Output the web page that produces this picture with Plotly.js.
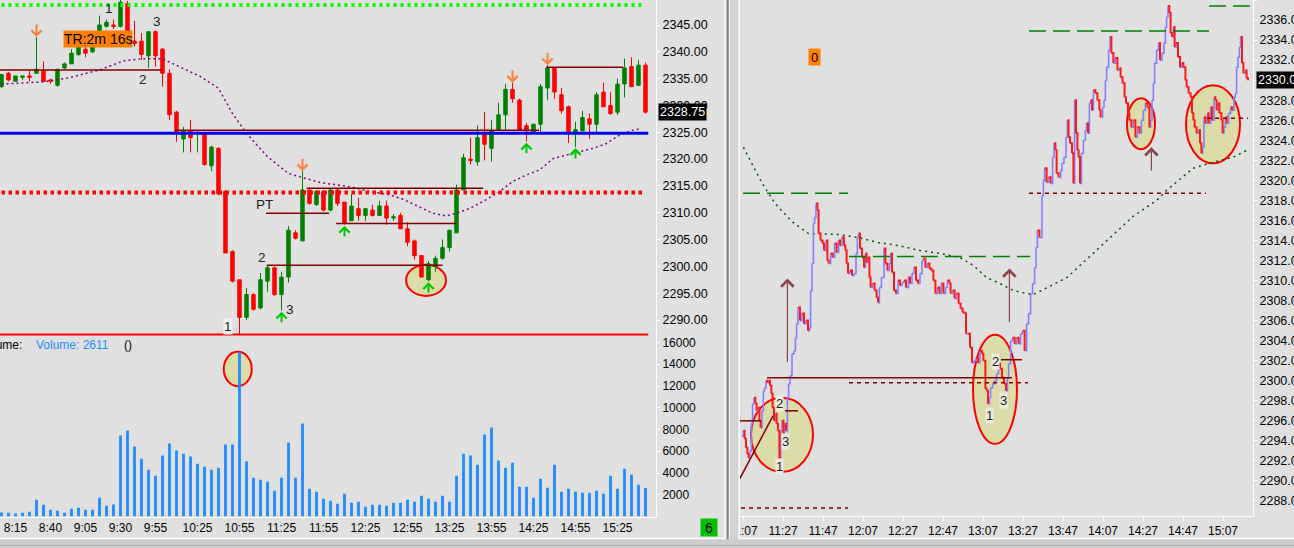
<!DOCTYPE html>
<html><head><meta charset="utf-8">
<script src="https://cdn.plot.ly/plotly-3.0.1.min.js"></script>
<style>html,body{margin:0;padding:0;background:#E0E0E0;overflow:hidden}#chart{width:1294px;height:548px}</style>
</head><body><div id="chart"></div><script>
// ---------- LEFT PANEL DATA (5-minute bars) ----------
const times = ["8:05","8:10","8:15","8:20","8:25","8:30","8:35","8:40","8:45","8:50","8:55",
"9:00","9:05","9:10","9:15","9:20","9:25","9:30","9:35","9:40","9:45","9:50","9:55",
"10:00","10:05","10:10","10:15","10:20","10:25","10:30","10:35","10:40","10:45","10:50","10:55",
"11:00","11:05","11:10","11:15","11:20","11:25","11:30","11:35","11:40","11:45","11:50","11:55",
"12:00","12:05","12:10","12:15","12:20","12:25","12:30","12:35","12:40","12:45","12:50","12:55",
"13:00","13:05","13:10","13:15","13:20","13:25","13:30","13:35","13:40","13:45","13:50","13:55",
"14:00","14:05","14:10","14:15","14:20","14:25","14:30","14:35","14:40","14:45","14:50","14:55",
"15:00","15:05","15:10","15:15","15:20","15:25","15:30","15:35","15:40","15:45"];
const open = [2333.5,2336.0,2334.5,2335.25,2335.5,2336.0,2336.5,2334.75,2333.75,2337.0,
2337.75,2339.5,2340.5,2340.0,2341.5,2344.75,2345.0,2344.75,2349.0,2342.0,
2342.0,2339.25,2343.75,2340.5,2336.0,2328.75,2323.75,2325.25,2324.75,2324.75,
2318.75,2322.0,2314.0,2302.75,2297.5,2290.5,2294.75,2292.25,2297.25,2299.75,
2294.75,2298.0,2306.25,2304.75,2314.25,2311.5,2314.0,2310.5,2314.25,2312.0,
2308.5,2310.75,2309.5,2310.5,2309.5,2311.25,2309.0,2309.5,2307.0,2304.75,
2302.0,2297.5,2300.0,2301.5,2303.5,2306.25,2314.25,2320.0,2319.5,2324.5,
2322.0,2325.5,2328.25,2333.0,2331.0,2326.25,2325.0,2326.5,2333.25,2337.0,
2332.0,2329.75,2325.0,2325.25,2327.5,2326.5,2332.5,2330.0,2328.75,2334.0,
2337.25,2333.75,2337.5];
const high = [2335.75,2336.25,2335.5,2335.5,2336.5,2342.75,2338.25,2335.0,2336.75,2338.0,
2340.5,2342.0,2341.0,2341.5,2346.75,2346.0,2346.0,2350.0,2349.5,2345.75,
2343.5,2343.75,2344.0,2340.75,2336.75,2329.0,2326.0,2327.25,2325.0,2325.0,
2322.5,2322.25,2314.25,2303.0,2297.5,2296.0,2295.0,2298.75,2300.25,2300.0,
2299.0,2307.5,2306.75,2317.75,2314.75,2314.25,2314.25,2314.5,2314.5,2312.0,
2313.5,2312.75,2310.75,2311.5,2312.25,2312.25,2309.75,2310.0,2308.25,2305.0,
2302.0,2301.0,2302.0,2305.0,2306.75,2315.25,2321.0,2324.0,2326.25,2328.75,
2327.25,2330.5,2334.0,2334.25,2331.25,2326.75,2326.5,2334.0,2337.5,2337.0,
2333.25,2330.0,2327.0,2329.0,2328.5,2332.5,2334.25,2332.5,2335.0,2338.75,
2339.0,2338.5,2338.0];
const low = [2333.25,2334.5,2334.5,2334.75,2334.5,2336.0,2334.5,2334.0,2333.5,2336.75,
2337.75,2339.25,2339.0,2339.75,2341.25,2344.5,2344.25,2344.5,2341.5,2341.0,
2338.5,2337.0,2337.25,2333.5,2327.25,2323.25,2321.25,2321.25,2321.25,2318.75,
2317.75,2313.25,2302.5,2297.0,2287.25,2290.0,2291.75,2292.0,2295.25,2294.5,
2291.75,2297.0,2305.0,2304.75,2311.5,2311.25,2310.25,2310.25,2311.25,2307.75,
2308.5,2308.5,2308.5,2309.25,2309.5,2307.75,2308.5,2307.0,2303.75,2301.25,
2298.0,2297.25,2299.0,2301.25,2302.75,2306.25,2314.25,2319.0,2318.75,2319.75,
2319.5,2325.5,2325.5,2330.5,2325.5,2323.25,2325.0,2325.0,2331.0,2331.25,
2328.5,2323.0,2322.25,2325.25,2323.75,2325.0,2329.75,2328.25,2328.25,2331.5,
2333.5,2333.75,2328.5];
const close = [2335.75,2334.75,2335.5,2335.5,2335.25,2336.75,2334.5,2334.5,2336.75,2337.75,
2339.75,2341.0,2339.75,2341.0,2345.0,2345.5,2344.75,2349.25,2341.75,2341.5,
2339.5,2343.75,2339.25,2336.0,2328.25,2325.0,2325.25,2324.0,2325.0,2319.0,
2322.25,2313.5,2302.5,2297.25,2290.5,2294.75,2292.0,2297.5,2299.75,2294.75,
2298.0,2306.75,2305.25,2314.25,2311.75,2314.0,2310.5,2314.25,2311.75,2308.0,
2311.25,2309.5,2310.75,2309.5,2311.25,2309.0,2309.25,2307.0,2304.5,2302.0,
2298.0,2300.5,2301.5,2303.5,2306.75,2314.25,2320.25,2319.75,2324.0,2322.75,
2325.25,2328.25,2333.0,2331.25,2325.5,2325.25,2326.5,2333.5,2337.0,2332.5,
2329.0,2325.0,2325.5,2327.75,2326.5,2332.0,2329.75,2328.5,2334.0,2337.0,
2333.5,2337.5,2328.75];
const volume = [370,340,280,340,430,1540,1080,620,520,340,
710,800,620,620,1720,980,1110,7450,7910,6430,
5320,4310,3750,5600,6710,6060,5780,5510,4860,4580,
4310,4490,6620,6620,15100,5050,3570,3380,3200,2370,
3570,6800,3570,8550,2550,2280,1630,1450,1170,2090,
1260,1350,890,1080,1080,980,1260,1260,1540,1350,
1910,1630,1350,1910,1350,3750,5780,5600,4770,7540,
8180,5140,4490,4950,2740,2740,1720,3480,2650,4770,
2280,2550,2280,2180,2180,2370,2090,3750,2550,4400,
3850,2920,2611];
// moving average read at sample bars: [bar index, price]
const leftMA = [[0,2334.0],[6,2334.4],[9.4,2335.1],[14,2336.6],[17.5,2338.35],[20,2338.7],[23,2338.7],[26,2336.9],[28.4,2335.4],[31,2333.2],[33,2328.5],[35,2324.8],[38,2320.45],[41,2317.3],[42.7,2316.7],[45.6,2315.6],[48,2315.2],[50.3,2314.7],[52.7,2313.9],[55,2313.5],[57.4,2312.5],[59.7,2311.0],[61.6,2309.9],[63.5,2309.4],[65,2309.9],[66.9,2310.8],[69.2,2312.4],[71.1,2313.9],[73,2315.8],[74.9,2317.0],[76.9,2318.0],[78.8,2320.1],[80.7,2320.8],[82.6,2321.4],[84.5,2322.0],[86.4,2322.9],[88.3,2324.5],[90.2,2325.4],[91.4,2325.7]];
const leftTickLabels = ["8:15","8:40","9:05","9:30","9:55","10:25","10:55","11:25","11:55","12:25","12:55","13:25","13:55","14:25","14:55","15:25"];
const volTicks = [2000,4000,6000,8000,10000,12000,14000,16000];

// ---------- RIGHT PANEL DATA (tick chart) : [minutes after 11:07, price] ----------
const rightBase = "11:07";
const rightTicks = [[-0.5,2294.5],[0.2,2295.0],[0.8,2294.2],[1.5,2293.3],[2.2,2292.7],[2.8,2292.3],[3.5,2293.0],[4.2,2295.7],[4.8,2297.7],[5.5,2298.3],[6.2,2297.7],[6.8,2297.0],[7.5,2297.3],[8.2,2296.0],[8.8,2295.3],[9.5,2297.0],[10.2,2299.0],[10.8,2299.3],[11.5,2300.0],[12.2,2299.8],[12.8,2300.0],[13.5,2299.5],[14.2,2298.7],[14.8,2297.3],[15.5,2296.0],[16.2,2296.7],[16.8,2295.7],[17.5,2295.0],[18.2,2291.2],[18.8,2295.0],[19.5,2296.0],[20.2,2294.7],[20.8,2295.7],[21.5,2295.0],[22.2,2298.3],[22.8,2299.7],[23.5,2300.5],[24.5,2302.7],[25.5,2303.0],[26.2,2304.3],[26.8,2305.7],[27.5,2307.3],[28.5,2306.0],[29.5,2306.7],[30.5,2305.7],[31.5,2306.0],[32.5,2305.0],[33.2,2305.3],[33.8,2309.0],[34.5,2311.7],[35.2,2315.7],[35.8,2316.3],[36.5,2317.7],[37.2,2317.0],[37.8,2314.7],[38.8,2314.0],[39.8,2313.7],[40.5,2313.0],[41.5,2314.0],[42.2,2312.0],[42.8,2311.7],[43.8,2312.7],[44.8,2312.3],[45.8,2313.7],[46.8,2312.8],[47.8,2314.0],[48.5,2313.5],[49.5,2314.3],[50.5,2313.5],[51.2,2313.0],[51.8,2311.7],[52.5,2310.7],[53.5,2311.0],[54.5,2310.5],[55.5,2310.7],[56.5,2312.7],[57.2,2314.3],[57.8,2314.7],[58.5,2313.2],[59.5,2312.3],[60.5,2311.3],[61.2,2312.7],[61.8,2311.8],[62.5,2312.3],[63.2,2310.3],[63.8,2309.3],[64.8,2309.7],[65.8,2309.0],[66.8,2308.3],[67.5,2307.8],[68.2,2309.3],[69.2,2310.3],[69.8,2310.3],[70.5,2313.2],[71.2,2311.7],[72.2,2311.0],[73.2,2311.7],[73.8,2312.7],[74.5,2310.8],[75.5,2309.0],[76.5,2308.7],[77.5,2310.0],[78.5,2309.5],[79.5,2309.8],[80.5,2310.0],[81.5,2309.3],
[82.7,2310.3],[83.5,2309.7],[84.5,2310.7],[85.5,2311.3],[86.5,2310.0],[87.5,2309.7],[88.5,2310.7],[89.5,2312.0],[90.2,2312.2],[91.2,2311.3],[92.2,2311.7],[93.2,2311.2],[94.2,2311.0],[95.2,2310.0],[96.2,2308.7],[97.2,2309.3],[98.2,2308.7],[99.2,2309.7],[100.2,2308.7],[101.2,2309.3],[102.2,2310.0],[103.2,2309.7],[103.8,2308.7],[104.8,2309.0],[105.8,2308.2],[106.8,2308.7],[107.8,2307.7],[108.8,2307.2],[109.8,2306.8],[110.8,2306.7],[111.5,2304.7],[112.5,2304.7],[113.5,2303.3],[114.5,2301.8],[115.5,2302.0],[116.5,2302.3],[117.5,2301.8],[118.5,2303.0],[119.5,2302.7],[120.2,2302.0],[121.2,2299.2],[121.8,2299.0],[122.5,2297.7],[123.2,2298.3],[123.8,2299.3],[124.8,2299.7],[125.8,2300.0],[126.8,2300.7],[127.8,2301.7],[128.5,2301.2],[129.5,2300.3],[130.5,2299.7],[131.5,2299.0],[132.2,2300.3],[132.8,2301.7],[133.8,2304.0],[134.8,2304.3],[135.8,2303.7],[136.8,2304.3],[137.8,2303.7],[138.8,2304.7],[139.8,2305.0],[140.8,2303.0],[141.8,2305.7],[142.8,2306.7],[143.8,2308.7],[144.8,2309.7],[145.8,2311.3],[146.5,2313.3],[147.2,2315.0],[148.2,2314.3],
[149.5,2318.5],[150.2,2320.0],[150.8,2321.2],[151.8,2319.8],[152.8,2320.3],[153.8,2319.7],[154.8,2322.3],[155.5,2323.7],[156.2,2323.0],[156.8,2320.7],[157.8,2320.3],[158.8,2321.0],[159.5,2321.7],[160.5,2322.3],[161.5,2324.3],[162.2,2326.0],[162.8,2324.3],[163.5,2323.7],[164.5,2322.7],[165.2,2319.7],[165.8,2328.0],[166.5,2324.7],[167.2,2323.0],[167.8,2322.3],[168.5,2319.7],[169.2,2322.7],[170.2,2324.0],[171.2,2325.0],[171.8,2325.7],[172.5,2324.7],[173.2,2327.7],[173.8,2328.0],[174.5,2327.0],[175.2,2329.0],[176.2,2328.7],[177.2,2328.0],[178.2,2327.0],[178.8,2326.3],[179.8,2327.3],[180.5,2328.0],[181.2,2330.0],[181.8,2331.3],[182.8,2333.0],[183.5,2334.3],[184.2,2332.7],[185.2,2331.7],[186.2,2332.2],[187.2,2331.0],[188.2,2331.2],[188.8,2330.3],[189.8,2329.7],[190.8,2328.3],[191.5,2327.7],[192.5,2326.7],[193.2,2326.0],[194.2,2325.3],[195.2,2326.0],[196.2,2324.3],[197.2,2325.3],[198.2,2324.7],[199.2,2326.0],[200.2,2327.0],[201.2,2327.7],[202.2,2327.3],[203.2,2325.3],[203.8,2326.0],[204.5,2328.0],[205.2,2329.7],[205.8,2331.7],[206.8,2333.0],[207.8,2333.7],[208.5,2332.0],[209.5,2332.7],[210.5,2333.7],[211.2,2335.3],[211.8,2336.3],[212.5,2337.4],[213.2,2336.7],[213.8,2334.7],[214.5,2334.3],[215.2,2335.3],[215.8,2333.3],[216.5,2333.7],[217.5,2332.3],[218.5,2331.3],[219.5,2331.7],[220.2,2331.3],[221.2,2330.0],[221.8,2329.3],[222.8,2328.7],[223.8,2328.3],[224.5,2326.7],[225.2,2326.0],[225.8,2325.3],[226.8,2324.7],[227.8,2325.0],[228.5,2323.7],[229.2,2322.7],[229.8,2323.3],[230.5,2326.3],[231.2,2325.7],[232.2,2326.7],[232.8,2325.7],[233.8,2327.3],[234.5,2326.0],[235.5,2328.3],[236.2,2328.0],[236.8,2327.0],[237.5,2327.7],[238.2,2326.7],[239.2,2326.0],[239.8,2324.7],[240.5,2325.3],[241.2,2326.3],[241.8,2325.7],[242.8,2326.7],[243.8,2327.3],[244.5,2327.0],[245.5,2328.3],[246.2,2328.7],[246.8,2331.3],[247.5,2332.3],[248.2,2333.3],[248.8,2334.3],[249.5,2331.7],[250.2,2330.7],[251.2,2331.0],[251.8,2330.2],[252.5,2330.0]];
const rightMA = [[0.2,2323.3],[9.3,2319.8],[16,2317.7],[24.3,2315.9],[32.7,2314.7],[47.5,2314.6],[57.5,2314.3],[67.5,2313.8],[77.5,2313.5],[88.5,2313.0],[98.5,2312.7],[108.5,2312.3],[115.2,2311.5],[121.8,2310.3],[128.5,2309.7],[135.2,2309.0],[141.8,2308.7],[145.2,2308.6],[162,2310.3],[178.5,2313.4],[195,2316.4],[206.8,2318.0],[211.8,2319.0],[225,2321.2],[235,2321.8],[245,2322.3],[252,2323.0]];
const rightTickLabels = ["11:07","11:27","11:47","12:07","12:27","12:47","13:07","13:27","13:47","14:07","14:27","14:47","15:07"];

// ---------- helpers ----------
const W = 1294, H = 548;
const px = v => v / W;
const py = v => 1 - v / H;
const toMin = s => { const [h, m] = s.split(":").map(Number); return h * 60 + m; };
const idx = times.map((_, i) => i);
const FONT = "Liberation Sans, Arial, sans-serif";

// split tick path into up/down segments
const upX = [], upY = [], dnX = [], dnY = [];
for (let k = 1; k < rightTicks.length; k++) {
  const a = rightTicks[k - 1], b = rightTicks[k];
  if (b[1] >= a[1]) { upX.push(a[0], b[0], null); upY.push(a[1], b[1], null); }
  else { dnX.push(a[0], b[0], null); dnY.push(a[1], b[1], null); }
}

const traces = [
  { type: "candlestick", x: idx, open, high, low, close, xaxis: "x", yaxis: "y",
    increasing: { line: { color: "#008000", width: 1 }, fillcolor: "#008000" },
    decreasing: { line: { color: "#FF0000", width: 1 }, fillcolor: "#FF0000" },
    whiskerwidth: 0, hoverinfo: "skip" },
  { type: "scatter", mode: "lines", x: leftMA.map(d => d[0]), y: leftMA.map(d => d[1]), xaxis: "x", yaxis: "y",
    line: { color: "#800080", width: 1.5, dash: "2px,3px" }, hoverinfo: "skip" },
  { type: "bar", x: idx, y: volume, xaxis: "x", yaxis: "y2", width: 0.4,
    marker: { color: "#1E8CFF", line: { width: 0 } }, hoverinfo: "skip" },
  { type: "scatter", mode: "lines", x: rightMA.map(d => d[0]), y: rightMA.map(d => d[1]), xaxis: "x2", yaxis: "y3",
    line: { color: "#005000", width: 1.5, dash: "2px,4px" }, hoverinfo: "skip" },
  { type: "scatter", mode: "lines", x: upX, y: upY, xaxis: "x2", yaxis: "y3", connectgaps: false,
    line: { color: "#8080FF", width: 1.6, shape: "hv" }, hoverinfo: "skip" },
  { type: "scatter", mode: "lines", x: dnX, y: dnY, xaxis: "x2", yaxis: "y3", connectgaps: false,
    line: { color: "#FF1A1A", width: 2, shape: "hv" }, hoverinfo: "skip" }
];

// ---------- shapes ----------
const shapes = [];
const hline = (xr, yr, y, x0, x1, color, width, dash) => shapes.push({ type: "line", xref: xr, yref: yr, x0, x1, y0: y, y1: y, layer: "above", line: { color, width, dash: dash || "solid" } });
const ellipse = (xr, yr, x0, x1, y0, y1) => shapes.push({ type: "circle", xref: xr, yref: yr, x0, x1, y0, y1, layer: "below", fillcolor: "#DCDCA8", line: { color: "#FF0000", width: 2 } });

// left panel ellipses
ellipse("x", "y", 57.8, 63.5, 2294.5, 2300.3);
ellipse("x", "y2", 31.75, 35.75, 11990, 15150);
// left panel levels
hline("x", "y", 2348.75, -1, 92, "#00FF00", 4, "3px,4px");
hline("x", "y", 2324.8, -1, 92.4, "#0000FF", 3);
hline("x", "y", 2313.75, -1, 92, "#FF0000", 4, "3.5px,3.5px");
hline("x", "y", 2287.3, -1, 92.4, "#FF0000", 2);
const M = "#800000";
hline("x", "y", 2336.6, -1, 22.9, M, 1.5);
hline("x", "y", 2325.4, 24.8, 76.8, M, 1.5);
hline("x", "y", 2314.55, 43.6, 68.8, M, 1.5);
hline("x", "y", 2309.9, 37.8, 46.8, M, 1.5);
hline("x", "y", 2300.2, 37.9, 63.0, M, 1.5);
hline("x", "y", 2308.0, 47.8, 65.0, M, 1.5);
hline("x", "y", 2337.1, 77.8, 88.8, M, 1.5);

// right panel ellipses
ellipse("x2", "y3", 4, 35, 2290.9, 2298.3);
ellipse("x2", "y3", 115, 137, 2293.7, 2304.6);
ellipse("x2", "y3", 192, 206, 2323.1, 2328.2);
ellipse("x2", "y3", 221.5, 248.5, 2321.7, 2329.5);
// right panel levels
hline("x2", "y3", 2318.7, 0, 52.5, "#008000", 1.5, "17px,7px");
hline("x2", "y3", 2312.4, 53, 143.5, "#008000", 1.5, "17px,7px");
hline("x2", "y3", 2334.9, 143, 233, "#008000", 1.5, "17px,7px");
hline("x2", "y3", 2337.4, 233, 253.5, "#008000", 1.5, "17px,7px");
hline("x2", "y3", 2299.8, 53, 142.5, M, 1.5, "4px,4px");
hline("x2", "y3", 2318.7, 143, 231.5, M, 1.5, "4px,4px");
hline("x2", "y3", 2326.2, 232, 252.5, M, 1.5, "4px,4px");
hline("x2", "y3", 2287.3, -1, 52.5, M, 1.5, "4px,4px");
hline("x2", "y3", 2300.3, 12, 134.5, M, 1.5);
hline("x2", "y3", 2302.1, 129, 139.5, M, 1.5);
hline("x2", "y3", 2296.0, -1.5, 9, M, 1.5);
hline("x2", "y3", 2297.0, 21, 27.5, M, 1.5);
shapes.push({ type: "line", xref: "x2", yref: "y3", x0: -1.65, y0: 2290.2, x1: 15, y1: 2296.5, layer: "above", line: { color: M, width: 1.5 } });

// window frame
const prect = (x0, x1, y0, y1, fill) => shapes.push({ type: "rect", xref: "paper", yref: "paper", x0: px(x0), x1: px(x1), y0: py(y1), y1: py(y0), layer: "above", fillcolor: fill, line: { width: 0 } });
const pline = (x0, y0, x1, y1, color, width) => shapes.push({ type: "line", xref: "paper", yref: "paper", x0: px(x0), x1: px(x1), y0: py(y0), y1: py(y1), layer: "above", line: { color, width } });
prect(724.5, 739.5, 0, 548, "#D2D2D2");
prect(725.5, 729, 0, 548, "#BEBEBE");
pline(725, 0, 725, 539, "#FFFFFF", 1.5);
pline(727.8, 0, 727.8, 548, "#7C7C7C", 1.5);
pline(729.5, 0, 729.5, 548, "#F4F4F4", 1);
pline(739.2, 0, 739.2, 539, "#FFFFFF", 1.5);
prect(0, 1294, 539, 548, "#CDCDCD");
pline(0, 538.5, 725, 538.5, "#FFFFFF", 1.5);
pline(739, 538.5, 1294, 538.5, "#FFFFFF", 1.5);
pline(0, 545.5, 1294, 545.5, "#B0B0B0", 1);

// ---------- annotations ----------
const ann = [];
const txt = (xr, yr, x, y, text, opts) => ann.push(Object.assign({ xref: xr, yref: yr, x, y, xanchor: "center", yanchor: "middle", text, showarrow: false, font: { family: FONT, size: 13.5, color: "#202020" } }, opts || {}));
// left pivots
txt("x", "y", 15.4, 2348.0, "1");
txt("x", "y", 22.2, 2345.6, "3");
txt("x", "y", 20.2, 2334.9, "2");
txt("x", "y", 32.4, 2288.7, "1", { bgcolor: "#F2F2F2", borderpad: 0 });
txt("x", "y", 37.2, 2301.6, "2");
txt("x", "y", 41.2, 2292.05, "3");
txt("x", "y", 37.6, 2311.6, "PT");
// right pivots
const rb = { bgcolor: "#ECECDF", borderpad: 0, font: { family: FONT, size: 13, color: "#202020" } };
txt("x2", "y3", 18.4, 2297.7, "2", rb);
txt("x2", "y3", 21.2, 2293.9, "3", rb);
txt("x2", "y3", 18.4, 2291.4, "1", rb);
txt("x2", "y3", 126.2, 2301.9, "2", rb);
txt("x2", "y3", 130.2, 2298.0, "3", rb);
txt("x2", "y3", 123.2, 2296.5, "1", rb);

// arrows
const arrow = (xr, yr, x, y, ay, color, w, head, size) => ann.push({ xref: xr, yref: yr, x, y, ax: 0, ay, text: "", showarrow: true, arrowhead: head, arrowsize: size, arrowwidth: w, arrowcolor: color, standoff: 0 });
[5, 43, 73, 78].forEach(i => arrow("x", "y", i, high[i], -14, "#FF8040", 2, 4, 1));
[40, 49, 61, 75, 82].forEach(i => arrow("x", "y", i, low[i] - 0.2, 12, "#00C800", 2, 4, 1));
arrow("x2", "y3", 22.2, 2310.2, 85, "#8B4545", 1.2, 4, 2);
arrow("x2", "y3", 133.2, 2311.2, 55, "#8B4545", 1.2, 4, 2);
arrow("x2", "y3", 204.2, 2323.3, 25, "#8B4545", 1.2, 4, 2);

// labels / boxes
const box = (x, y, text, bg, size, extra) => ann.push(Object.assign({ xref: "paper", yref: "paper", x: px(x), y: py(y), xanchor: "center", yanchor: "middle", text, showarrow: false, bgcolor: bg, borderpad: 0, font: { family: FONT, size, color: "#000" } }, extra || {}));
box(98, 39.5, "TR:2m 16s", "#FF8000", 14);
box(814.5, 57, "0", "#FF8000", 13, { width: 11, height: 16 });
box(709, 527.5, "6", "#00C000", 14, { width: 16, height: 17 });
ann.push({ xref: "paper", yref: "y", x: px(657.5), xanchor: "left", yanchor: "middle", y: close[close.length - 1], text: close[close.length - 1].toFixed(2), showarrow: false, bgcolor: "#000", borderpad: 1, font: { family: FONT, size: 12.5, color: "#FFF" } });
ann.push({ xref: "paper", yref: "y3", x: px(1256), xanchor: "left", yanchor: "middle", y: rightTicks[rightTicks.length - 1][1], text: rightTicks[rightTicks.length - 1][1].toFixed(2), showarrow: false, bgcolor: "#000", borderpad: 1, font: { family: FONT, size: 12.5, color: "#FFF" } });
// volume legend
ann.push({ xref: "paper", yref: "paper", x: px(24), xanchor: "right", yanchor: "middle", y: py(345), text: "Volume:", showarrow: false, font: { family: FONT, size: 12, color: "#000" } });
ann.push({ xref: "paper", yref: "paper", x: px(34), xanchor: "left", yanchor: "middle", y: py(345), text: "Volume: " + volume[volume.length - 1], showarrow: false, font: { family: FONT, size: 12, color: "#1E8CFF" } });
ann.push({ xref: "paper", yref: "paper", x: px(122), xanchor: "left", yanchor: "middle", y: py(345), text: "()", showarrow: false, font: { family: FONT, size: 12, color: "#000" } });

// ---------- layout ----------
const axBase = { showgrid: false, zeroline: false, showline: true, linecolor: "#FFFFFF", linewidth: 1, fixedrange: true, tickfont: { family: FONT, size: 12, color: "#000" } };
const layout = {
  width: W, height: H, margin: { l: 0, r: 0, t: 0, b: 0 },
  paper_bgcolor: "#E0E0E0", plot_bgcolor: "#E0E0E0", showlegend: false, hovermode: false, dragmode: false,
  font: { family: FONT, size: 12, color: "#000" },
  boxgap: 0.3,
  xaxis: Object.assign({}, axBase, { domain: [0, px(656)], range: [-0.214, 93.5], anchor: "y2",
    tickmode: "array", tickvals: leftTickLabels.map(l => times.indexOf(l)), ticktext: leftTickLabels,
    ticks: "", rangeslider: { visible: false } }),
  yaxis: Object.assign({}, axBase, { domain: [py(336), 1], range: [2287.02, 2349.66], side: "right", anchor: "x",
    dtick: 5, tick0: 2290, tickformat: ".2f", ticks: "outside", ticklen: 3, tickcolor: "#FFFFFF", tickfont: { family: FONT, size: 12.5, color: "#000" } }),
  yaxis2: Object.assign({}, axBase, { domain: [py(516.5), py(336)], range: [0, 16600], side: "right", anchor: "x",
    tickmode: "array", tickvals: volTicks, tickformat: "d", ticks: "outside", ticklen: 3, tickcolor: "#FFFFFF" }),
  xaxis2: Object.assign({}, axBase, { domain: [px(737), px(1253)], range: [-3, 255], anchor: "y3",
    tickmode: "array", tickvals: rightTickLabels.map(l => toMin(l) - toMin(rightBase)), ticktext: rightTickLabels,
    ticks: "outside", ticklen: 4, tickcolor: "#FFFFFF", rangeslider: { visible: false } }),
  yaxis3: Object.assign({}, axBase, { domain: [py(516), 1], range: [2286.5, 2338], side: "right", anchor: "x2",
    dtick: 2, tick0: 2288, tickformat: ".2f", ticks: "outside", ticklen: 3, tickcolor: "#FFFFFF", tickfont: { family: FONT, size: 12.5, color: "#000" } }),
  shapes, annotations: ann
};
Plotly.newPlot("chart", traces, layout, { staticPlot: true, displayModeBar: false });
</script></body></html>
